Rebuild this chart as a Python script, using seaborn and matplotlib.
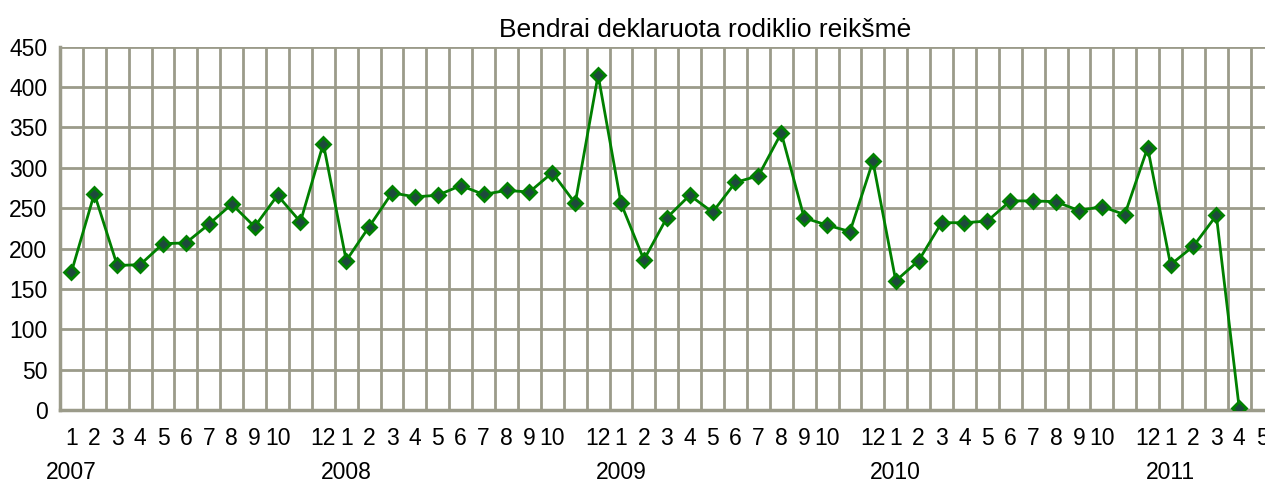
import numpy as np
import pandas as pd
import matplotlib
matplotlib.use('Agg')
import matplotlib.pyplot as plt
import seaborn as sns

# ── Duomenys ──────────────────────────────────────────────────────────────────
vals_2007 = [171, 268, 179, 180, 206, 207, 230, 255, 227, 266, 233, 330]
vals_2008 = [185, 227, 269, 264, 266, 278, 267, 272, 270, 294, 256, 415]
vals_2009 = [256, 186, 238, 266, 245, 282, 290, 343, 238, 229, 221, 308]
vals_2010 = [160, 185, 232, 232, 234, 259, 259, 258, 247, 252, 242, 325]
vals_2011 = [180, 203, 241, 2, np.nan]

month_labels = (['1', '2', '3', '4', '5', '6', '7', '8', '9', '10', '', '12'] * 4
                + ['1', '2', '3', '4', '5'])
year_labels = ['2007', '2008', '2009', '2010', '2011']
year_starts = [0, 12, 24, 36, 48]

values = vals_2007 + vals_2008 + vals_2009 + vals_2010 + vals_2011
df = pd.DataFrame({'idx': range(len(values)), 'value': values})

GRID = '#9b9b8a'
GREEN = '#008000'

# ── Figure ────────────────────────────────────────────────────────────────────
sns.set_style('white')
plt.rcParams['font.family'] = ['Liberation Sans', 'DejaVu Sans']
plt.rcParams['text.color'] = 'black'
plt.rcParams['xtick.color'] = 'black'
plt.rcParams['ytick.color'] = 'black'

fig = plt.figure(figsize=(12.65, 4.84), dpi=100)
ax = fig.add_axes([60 / 1265, 74 / 484, 1213.6 / 1265, 363.3 / 484])

sns.lineplot(data=df, x='idx', y='value', ax=ax, color=GREEN, linewidth=2,
             marker='D', markersize=7, markerfacecolor='#1d4a3c',
             markeredgecolor=GREEN, markeredgewidth=2, zorder=3)

ax.set_xlim(-0.5, len(values) - 0.5)
ax.set_ylim(0, 450)
ax.set_yticks(np.arange(0, 451, 50))
ax.set_xticks(range(len(values)))
ax.set_xticklabels(month_labels)
ax.set_xticks(np.arange(-0.5, len(values), 1), minor=True)

ax.grid(False)
ax.grid(True, which='minor', axis='x', color=GRID, linewidth=2)
ax.grid(True, which='major', axis='y', color=GRID, linewidth=2)
ax.set_axisbelow(True)

for side in ['top', 'right']:
    ax.spines[side].set_visible(False)
for side in ['left', 'bottom']:
    ax.spines[side].set_color(GRID)
    ax.spines[side].set_linewidth(2.5)

ax.tick_params(axis='both', which='both', length=0, labelsize=16.5)
ax.tick_params(axis='x', pad=12)
ax.tick_params(axis='y', pad=9)
ax.set_xlabel('')
ax.set_ylabel('')

for lab, pos in zip(year_labels, year_starts):
    ax.text(pos, -0.173, lab, transform=ax.get_xaxis_transform(),
            ha='center', va='center', fontsize=16.5)

fig.text(705 / 1265, 1 - 30 / 484, 'Bendrai deklaruota rodiklio reikšmė',
         ha='center', va='center', fontsize=19)

plt.savefig('out.png', dpi=100)
plt.close()
